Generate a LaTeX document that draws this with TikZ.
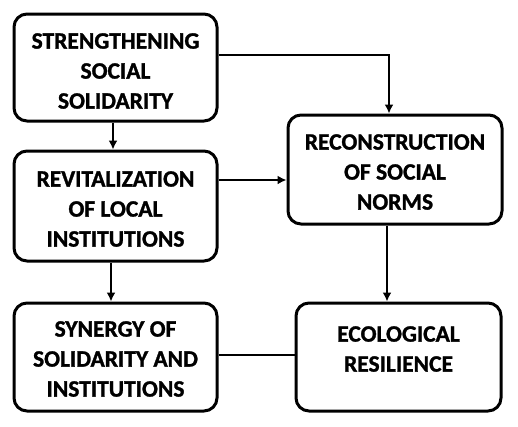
\documentclass[tikz,border=0pt]{standalone}
\usepackage{fontspec}
\setmainfont{Carlito}[BoldFeatures={FakeBold=1.2}]
\usetikzlibrary{arrows.meta,calc}
\begin{document}
\begin{tikzpicture}[x=1pt,y=-1pt,
  box/.style={draw=black,line width=3pt,rounded corners=13pt,fill=white,inner sep=0pt},
  txt/.style={align=center,font=\fontsize{23.5}{30}\selectfont\bfseries,inner sep=0pt},
  arr/.style={line width=2.6pt,-{Latex[length=9pt,width=9pt]}},
  ln/.style={line width=2.6pt}]
\path[fill=white] (0,0) rectangle (518,426);
\useasboundingbox (0,0) rectangle (518,426);
\node[box,minimum width=203pt,minimum height=107pt] (b1) at (115.5,67.5) {};
\node[txt] (t1) at (115.5,71) {STRENGTHENING\\SOCIAL\\SOLIDARITY};
\node[box,minimum width=203pt,minimum height=110pt] (b2) at (115.5,206) {};
\node[txt] (t2) at (115.5,209) {REVITALIZATION\\OF LOCAL\\INSTITUTIONS};
\node[box,minimum width=214pt,minimum height=109pt] (b3) at (395,169.5) {};
\node[txt] (t3) at (395,172) {RECONSTRUCTION\\OF SOCIAL\\NORMS};
\node[box,minimum width=203pt,minimum height=108pt] (b4) at (115.5,357) {};
\node[txt] (t4) at (115.5,359) {SYNERGY OF\\SOLIDARITY AND\\INSTITUTIONS};
\node[box,minimum width=205pt,minimum height=108pt] (b5) at (398.5,357) {};
\node[txt] (t5) at (398.5,349) {ECOLOGICAL\\RESILIENCE};
\draw[arr] ([xshift=-2.5pt]b1.south) -- ([xshift=-2.5pt]b1.south |- b2.north);
\draw[arr] ([yshift=12.5pt]b1.east) -| ([xshift=-6pt]b3.north);
\draw[arr] ([yshift=26pt]b2.east) -- ([yshift=26pt]b2.east -| b3.west);
\draw[arr] ([xshift=-4.5pt]b2.south) -- ([xshift=-4.5pt]b2.south |- b4.north);
\draw[arr] ([xshift=-8pt]b3.south) -- ([xshift=-8pt]b3.south |- b5.north);
\draw[ln] ([yshift=2pt]b4.east) -- ([yshift=2pt]b4.east -| b5.west);
\end{tikzpicture}
\end{document}
